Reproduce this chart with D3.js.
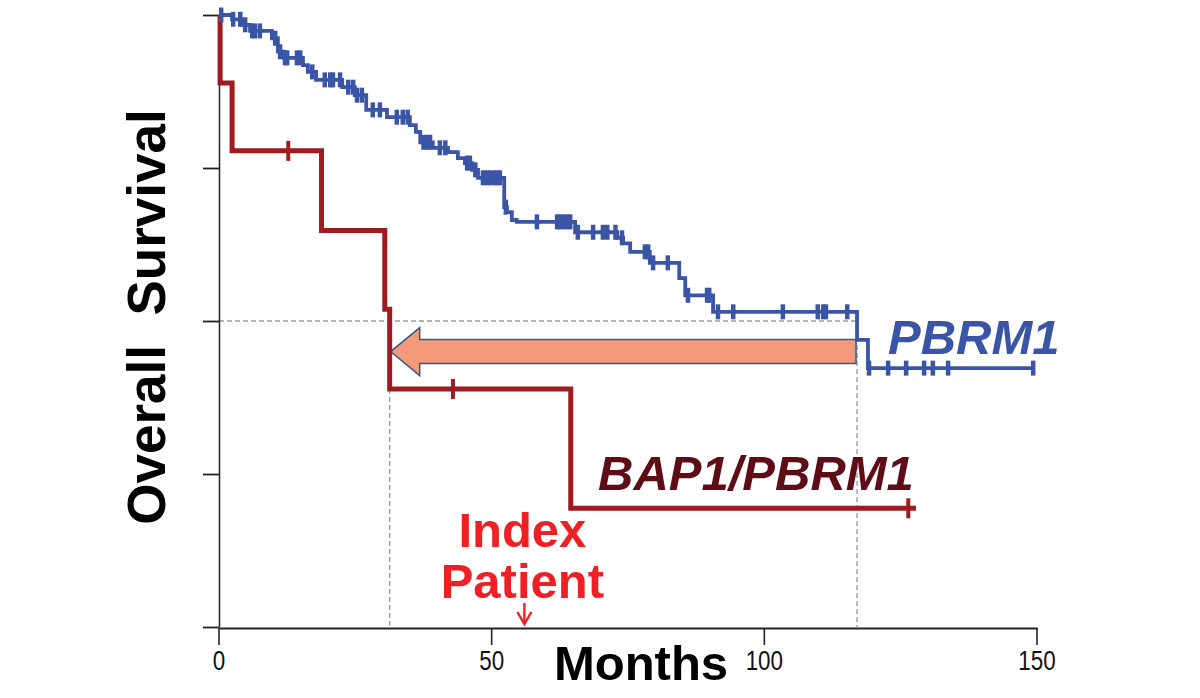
<!DOCTYPE html>
<html>
<head>
<meta charset="utf-8">
<script src="https://cdn.jsdelivr.net/npm/d3@7"></script>
<style>
  body { margin: 0; background: #fff; }
  svg { display: block; }
</style>
</head>
<body>
<div id="wrapper"></div>
<script>
// Data (months / survival fraction)

const xTicks = [0, 50, 100, 150]
const yTicks = [0, 0.25, 0.5, 0.75, 1]

// PBRM1 cohort: event times and survival after each step
const blueTimes = [0, 2.4, 4.2, 5.7, 9.7, 10.8, 11.9, 15.4, 16.3, 17.8, 22.6, 24.9, 27.0, 30.8,
    35.0, 36.1, 36.9, 39.2, 42.0, 43.8, 45.1, 46.4, 47.5, 52.3, 52.8, 53.7, 54.6, 65.3,
    73.0, 74.1, 75.4, 79.0, 84.4, 85.5, 90.6, 117.0, 119.0]
const blueSurv = [1, 0.993, 0.984, 0.974, 0.962, 0.940, 0.930, 0.918, 0.907, 0.894, 0.882, 0.869, 0.845, 0.833,
    0.820, 0.809, 0.792, 0.783, 0.776, 0.766, 0.758, 0.747, 0.734, 0.686, 0.678, 0.665, 0.662, 0.645,
    0.636, 0.627, 0.613, 0.595, 0.570, 0.542, 0.515, 0.469, 0.423]
const blueEnd = 149.3
const blueCensor = [0.4, 2.6, 3.9, 4.8, 6.1, 6.6, 7.5, 10.3, 11.2, 12.1, 12.5, 14.3, 14.9, 17.1,
    19.4, 20.4, 20.9, 22.2, 23.7, 24.6, 25.3, 26.2, 28.2, 29.5, 32.6, 33.7, 34.6, 37.5, 38.1,
    38.7, 40.5, 41.5, 45.5, 46.0, 47.0, 48.4, 49.1, 49.7, 50.4, 51.0, 51.5, 52.6, 58.3, 62.0,
    62.5, 63.1, 63.8, 64.4, 65.8, 68.6, 70.4, 71.2, 72.7, 73.9, 78.1, 78.7, 79.6, 82.3, 86.0,
    89.5, 89.9, 91.5, 94.3, 103.4, 109.8, 110.8, 111.3, 115.2, 119.2, 122.7, 126.0, 129.3,
    130.9, 133.7, 149.3]

// BAP1/PBRM1 cohort
const redTimes = [0, 0.2, 2.4, 18.8, 30.4, 31.3, 64.5]
const redSurv = [1, 0.889, 0.778, 0.648, 0.519, 0.389, 0.194]
const redEnd = 127.8
const redCensor = [12.7, 42.9, 126.4]

// median survival guides
const medianPBRM1 = 117
const medianBAP1 = 31.3
const arrowSurv = 0.45
const indexPatient = 56

async function drawChart() {

    const dimensions = {
        width: 1200,
        height: 698,
        margin: { top: 15, left: 219, right: 163, bottom: 71 },
    }
    dimensions.boundedWidth = dimensions.width - dimensions.margin.left - dimensions.margin.right
    dimensions.boundedHeight = dimensions.height - dimensions.margin.top - dimensions.margin.bottom

    const wrapper = d3.select("#wrapper")
        .append("svg")
        .attr("width", dimensions.width)
        .attr("height", dimensions.height)

    const bounds = wrapper.append("g")
        .attr("transform", `translate(${dimensions.margin.left}, ${dimensions.margin.top})`)

    const xScale = d3.scaleLinear()
        .domain([0, 150])
        .range([0, dimensions.boundedWidth])

    const yScale = d3.scaleLinear()
        .domain([0, 1])
        .range([dimensions.boundedHeight, 0])

    // dashed median guides
    const guides = bounds.append("g")
        .attr("stroke", "#9a9a9a")
        .attr("stroke-width", 1.3)
        .attr("stroke-dasharray", "5,3")
        .attr("fill", "none")
    guides.append("line")
        .attr("x1", xScale(0)).attr("x2", xScale(medianPBRM1))
        .attr("y1", yScale(0.5)).attr("y2", yScale(0.5))
    guides.append("line")
        .attr("x1", xScale(medianPBRM1)).attr("x2", xScale(medianPBRM1))
        .attr("y1", yScale(0.5)).attr("y2", yScale(0))
    guides.append("line")
        .attr("x1", xScale(medianBAP1)).attr("x2", xScale(medianBAP1))
        .attr("y1", yScale(redSurv[5])).attr("y2", yScale(0))

    // block arrow
    const ay = yScale(arrowSurv)
    const tipX = xScale(medianBAP1) + 1
    const headX = tipX + 29
    const endX = xScale(medianPBRM1) - 1
    const arrowPath = [
        [endX, ay - 12], [headX, ay - 12], [headX, ay - 24], [tipX, ay],
        [headX, ay + 24], [headX, ay + 12], [endX, ay + 12]
    ]
    bounds.append("path")
        .attr("d", d3.line()(arrowPath) + "Z")
        .attr("fill", "#f4997a")
        .attr("stroke", "#2f5b8c")
        .attr("stroke-width", 1.5)

    // axes
    const xAxis = bounds.append("g")
        .attr("transform", `translate(0, ${dimensions.boundedHeight + 1})`)
        .call(d3.axisBottom(xScale).tickValues(xTicks).tickSize(17).tickSizeOuter(0).tickPadding(5))
    xAxis.select(".domain").attr("stroke", "#222").attr("stroke-width", 2)
    xAxis.selectAll(".tick line").attr("stroke", "#222").attr("stroke-width", 1.6)
    xAxis.selectAll(".tick text")
        .attr("fill", "#111")
        .attr("transform", "scale(0.8, 1)")
        .attr("x", 0)
        .style("font-family", "'Liberation Sans', Arial, sans-serif")
        .style("font-size", "28px")
    // keep narrowed labels centred under their ticks
    xAxis.selectAll(".tick").each(function(d) {
        d3.select(this).attr("transform", `translate(${xScale(d)}, 0)`)
    })

    const yAxis = bounds.append("g")
        .call(d3.axisLeft(yScale).tickValues(yTicks).tickSize(16).tickSizeOuter(0).tickFormat(""))
    yAxis.select(".domain").attr("stroke", "#222").attr("stroke-width", 1.5)
    yAxis.selectAll(".tick line").attr("stroke", "#222").attr("stroke-width", 1.8)

    // survival curves
    const stepLine = d3.line()
        .x(d => xScale(d[0]))
        .y(d => yScale(d[1]))
        .curve(d3.curveStepAfter)

    const survAt = (times, surv, t) => surv[Math.max(0, d3.bisectRight(times, t) - 1)]

    const drawCurve = (times, surv, end, censor, color, width, tickHalf, tickWidth) => {
        const pts = times.map((t, i) => [t, surv[i]])
        pts.push([end, surv[surv.length - 1]])
        bounds.append("path")
            .attr("d", stepLine(pts))
            .attr("fill", "none")
            .attr("stroke", color)
            .attr("stroke-width", width)
            .attr("stroke-linejoin", "miter")
        bounds.append("g")
            .attr("stroke", color)
            .attr("stroke-width", tickWidth)
            .selectAll("line")
            .data(censor)
            .join("line")
                .attr("x1", d => xScale(d))
                .attr("x2", d => xScale(d))
                .attr("y1", d => yScale(survAt(times, surv, d)) - tickHalf)
                .attr("y2", d => yScale(survAt(times, surv, d)) + tickHalf)
    }

    drawCurve(redTimes, redSurv, redEnd, redCensor, "#9e1b20", 5, 10, 4)
    drawCurve(blueTimes, blueSurv, blueEnd, blueCensor, "#3a55a5", 3.8, 7.5, 4.5)

    // labels
    const bold = "'Liberation Sans', Arial, Helvetica, sans-serif"

    wrapper.append("text")
        .attr("transform", `translate(165, 317) rotate(-90)`)
        .attr("text-anchor", "middle")
        .attr("font-family", bold)
        .attr("font-weight", "bold")
        .attr("font-size", 53)
        .attr("fill", "#000")
        .style("white-space", "pre")
        .text("Overall  Survival")

    wrapper.append("text")
        .attr("x", 641)
        .attr("y", 680)
        .attr("text-anchor", "middle")
        .attr("font-family", bold)
        .attr("font-weight", "bold")
        .attr("font-size", 49)
        .attr("fill", "#000")
        .text("Months")

    wrapper.append("text")
        .attr("x", 888)
        .attr("y", 354)
        .attr("font-family", bold)
        .attr("font-weight", "bold")
        .attr("font-style", "italic")
        .attr("font-size", 49)
        .attr("fill", "#3a55a5")
        .text("PBRM1")

    wrapper.append("text")
        .attr("x", 598)
        .attr("y", 490)
        .attr("font-family", bold)
        .attr("font-weight", "bold")
        .attr("font-style", "italic")
        .attr("font-size", 49)
        .attr("fill", "#5e0c16")
        .text("BAP1/PBRM1")

    const ix = dimensions.margin.left + xScale(indexPatient)
    const indexLabel = wrapper.append("text")
        .attr("text-anchor", "middle")
        .attr("font-family", bold)
        .attr("font-weight", "bold")
        .attr("font-size", 49)
        .attr("fill", "#ee2024")
    indexLabel.append("tspan").attr("x", ix - 2).attr("y", 547).text("Index")
    indexLabel.append("tspan").attr("x", ix - 2).attr("y", 598).text("Patient")

    // small arrow to the index patient
    const arrowG = wrapper.append("g")
        .attr("stroke", "#ee2024")
        .attr("stroke-width", 2.4)
        .attr("fill", "none")
    arrowG.append("line")
        .attr("x1", ix).attr("x2", ix)
        .attr("y1", 603).attr("y2", 624)
    arrowG.append("path")
        .attr("d", `M${ix - 7},${612} L${ix},${624} L${ix + 7},${612}`)
}
drawChart()
</script>
</body>
</html>
